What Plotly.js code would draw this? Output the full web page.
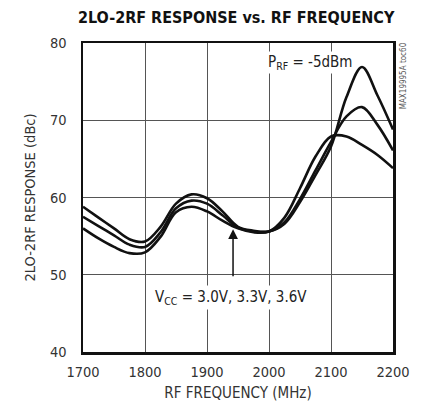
<!DOCTYPE html>
<html>
<head>
<meta charset="utf-8">
<script src="https://cdn.plot.ly/plotly-3.0.1.min.js"></script>
<style>html,body{margin:0;padding:0;background:#fff;}#chart{width:424px;height:410px;}</style>
</head>
<body>
<div id="chart"></div>
<script>
const freq = [1700,1725,1750,1775,1800,1825,1850,1875,1900,1925,1950,1975,2000,2025,2050,2075,2100,2125,2150,2175,2200];
const vccA = [58.8,57.4,56.0,54.6,54.3,56.2,59.2,60.4,59.9,58.2,56.2,55.7,55.6,56.6,59.4,62.9,66.6,73.0,76.9,73.2,68.8];
const vccB = [57.5,56.3,55.1,53.9,53.6,55.5,58.6,59.6,59.2,57.7,56.1,55.6,55.6,56.8,59.8,63.5,67.2,70.5,71.7,69.4,66.1];
const vccC = [56.0,54.7,53.6,52.8,52.9,54.9,58.1,58.8,58.2,57.0,56.0,55.5,55.6,57.4,61.2,65.3,67.9,67.9,66.8,65.5,63.8];
const xTicks = [1700,1800,1900,2000,2100,2200];
const yTicks = [40,50,60,70,80];

const narrow = '"DejaVu Sans Condensed", "Liberation Sans Narrow", Arial, sans-serif';
const mk = (y) => ({x: freq, y: y, type: 'scatter', mode: 'lines',
  line: {color: '#111', width: 2.6, shape: 'spline', smoothing: 1.0}, hoverinfo: 'skip'});

const data = [mk(vccA), mk(vccB), mk(vccC)];

const layout = {
  width: 424, height: 410,
  margin: {l: 83, r: 31, t: 43, b: 58},
  paper_bgcolor: '#fff', plot_bgcolor: '#fff',
  showlegend: false,
  title: {text: '<b>2LO-2RF RESPONSE vs. RF FREQUENCY</b>', x: 0.557, xanchor: 'center', y: 0.957, yanchor: 'middle',
    font: {family: narrow, size: 16, color: '#111'}},
  xaxis: {range: [1700, 2200], tickvals: xTicks, ticktext: xTicks.map(String),
    showgrid: true, gridcolor: '#555', gridwidth: 1, zeroline: false,
    showline: true, linecolor: '#111', linewidth: 2.5, mirror: true,
    ticks: 'outside', ticklen: 5, tickcolor: 'rgba(0,0,0,0)',
    tickfont: {family: narrow, size: 14.5, color: '#333'},
    title: {text: 'RF FREQUENCY (MHz)', font: {family: narrow, size: 15, color: '#333'}, standoff: 9}},
  yaxis: {range: [40, 80], tickvals: yTicks, ticktext: yTicks.map(String),
    showgrid: true, gridcolor: '#555', gridwidth: 1, zeroline: false,
    showline: true, linecolor: '#111', linewidth: 2.5, mirror: true,
    ticks: 'outside', ticklen: 11, tickcolor: 'rgba(0,0,0,0)',
    tickfont: {family: narrow, size: 14.5, color: '#333'},
    title: {text: '2LO-2RF RESPONSE (dBc)', font: {family: narrow, size: 14.5, color: '#333'}, standoff: 11}},
  annotations: [
    {x: 2066, y: 77.5, xref: 'x', yref: 'y', text: 'P<sub>RF</sub> = -5dBm', showarrow: false,
      font: {family: narrow, size: 15, color: '#222'}, bgcolor: '#fff', borderpad: 1},
    {x: 1942, y: 55.9, ax: 1942, ay: 49.6, xref: 'x', yref: 'y', axref: 'x', ayref: 'y',
      text: '', showarrow: true, arrowhead: 2, arrowsize: 1.3, arrowwidth: 1.5, arrowcolor: '#111'},
    {x: 1939, y: 47.1, xref: 'x', yref: 'y', text: 'V<sub>CC</sub> = 3.0V, 3.3V, 3.6V', showarrow: false,
      font: {family: narrow, size: 15, color: '#222'}, bgcolor: '#fff', borderpad: 2},
    {x: 1.035, y: 1.01, xref: 'paper', yref: 'paper', xanchor: 'center', yanchor: 'top',
      text: 'MAX19995A toc60', showarrow: false, textangle: -90,
      font: {family: narrow, size: 8, color: '#555'}}
  ]
};

Plotly.newPlot('chart', data, layout, {staticPlot: true, displayModeBar: false});
</script>
</body>
</html>
